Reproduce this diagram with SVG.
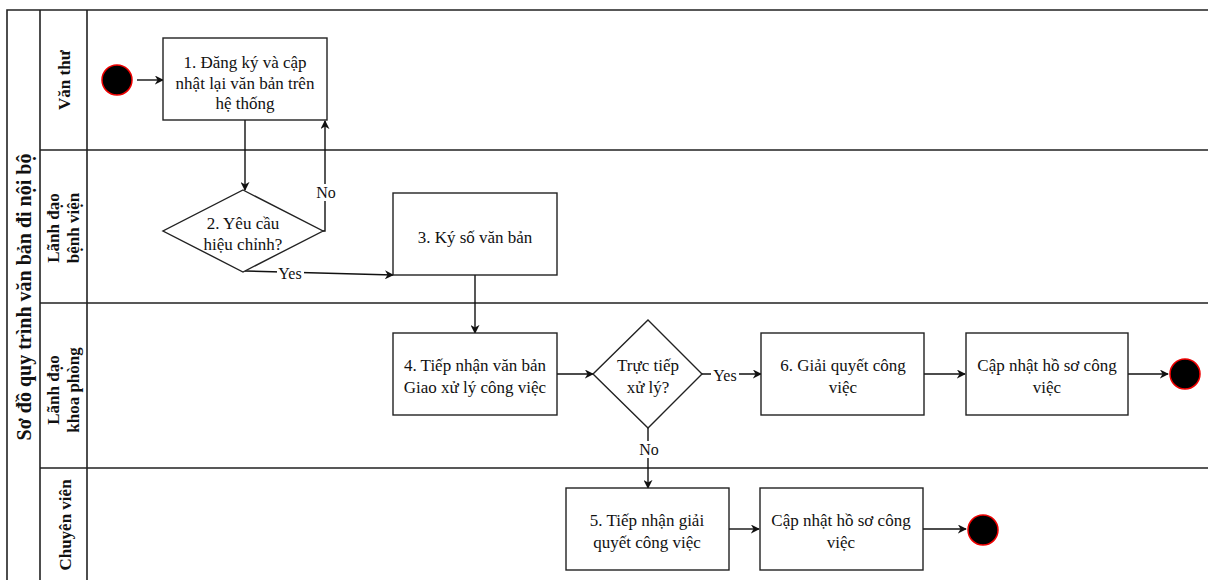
<svg xmlns="http://www.w3.org/2000/svg" width="1208" height="581" viewBox="0 0 1208 581">
<style>
.frame{stroke:#222;stroke-width:1.6;fill:none}
.box{fill:#fff;stroke:#222;stroke-width:1.4}
.t{font-family:"Liberation Serif","Times New Roman",serif;font-size:17px;fill:#111;text-anchor:middle}
.lane{font-family:"Liberation Serif","Times New Roman",serif;font-size:17px;font-weight:bold;fill:#111;text-anchor:middle}
.title{font-family:"Liberation Serif","Times New Roman",serif;font-size:20px;font-weight:bold;fill:#111;text-anchor:middle}
.c{stroke:#111;stroke-width:1.4;fill:none;marker-end:url(#ah)}
.lbl{font-family:"Liberation Serif","Times New Roman",serif;font-size:16px;fill:#111;text-anchor:middle}
.ev{fill:#000;stroke:#e00;stroke-width:1.5}
</style>
<defs>
<marker id="ah" viewBox="0 0 10 10" refX="9" refY="5" markerWidth="9" markerHeight="9" markerUnits="userSpaceOnUse" orient="auto">
<path d="M0,0 L10,5 L0,10 L3,5 Z" fill="#111"/>
</marker>
</defs>
<rect width="1208" height="581" fill="#fff"/>
<g id="pool">
<path class="frame" d="M7,580 V10 H1208 M40,10 V580 M87,10 V580 M40,150 H1208 M40,303 H1208 M40,468 H1208"/>
<text class="title" transform="translate(31,297) rotate(-90)">Sơ đồ quy trình văn bản đi nội bộ</text>
<text class="lane" transform="translate(70,80) rotate(-90)">Văn thư</text>
<text class="lane" transform="translate(59,228) rotate(-90)"><tspan x="0" y="0">Lãnh đạo</tspan><tspan x="0" y="20">bệnh viện</tspan></text>
<text class="lane" transform="translate(59,390) rotate(-90)"><tspan x="0" y="0">Lãnh đạo</tspan><tspan x="0" y="20">khoa phòng</tspan></text>
<text class="lane" transform="translate(71,525) rotate(-90)">Chuyên viên</text>
</g>
<g id="connectors">
<line class="c" x1="137" y1="80" x2="163" y2="80"/>
<line class="c" x1="245" y1="120" x2="245" y2="190"/>
<polyline class="c" points="323,231 325,231 325,121"/>
<polyline class="c" points="245,271 393,275"/>
<line class="c" x1="475" y1="275" x2="475" y2="333"/>
<line class="c" x1="557" y1="374" x2="593" y2="374"/>
<line class="c" x1="702" y1="374" x2="761" y2="374"/>
<line class="c" x1="648" y1="428" x2="648" y2="488"/>
<line class="c" x1="924" y1="374" x2="965" y2="374"/>
<line class="c" x1="1128" y1="374" x2="1168" y2="374"/>
<line class="c" x1="729" y1="529" x2="759" y2="529"/>
<line class="c" x1="923" y1="529" x2="966" y2="529"/>
<rect x="313" y="184" width="26" height="17" fill="#fff"/>
<text class="lbl" x="326" y="198">No</text>
<rect x="277" y="266" width="27" height="14" fill="#fff"/>
<text class="lbl" x="290" y="279">Yes</text>
<rect x="711" y="367" width="28" height="14" fill="#fff"/>
<text class="lbl" x="725" y="381">Yes</text>
<rect x="636" y="441" width="25" height="17" fill="#fff"/>
<text class="lbl" x="649" y="455">No</text>
</g>
<g id="start"><circle class="ev" cx="117" cy="80" r="15"/></g>
<g id="n1"><rect class="box" x="163" y="38" width="164" height="82"/>
<text class="t" x="245" y="68">1. Đăng ký và cập</text><text class="t" x="245" y="89">nhật lại văn bản trên</text><text class="t" x="245" y="109">hệ thống</text></g>
<g id="n2"><polygon class="box" points="243,190 323,231 243,272 163,231"/>
<text class="t" x="243" y="229">2. Yêu cầu</text><text class="t" x="243" y="250">hiệu chỉnh?</text></g>
<g id="n3"><rect class="box" x="393" y="193" width="164" height="82"/>
<text class="t" x="475" y="243">3. Ký số văn bản</text></g>
<g id="n4"><rect class="box" x="393" y="333" width="164" height="82"/>
<text class="t" x="475" y="371">4. Tiếp nhận văn bản</text><text class="t" x="475" y="393">Giao xử lý công việc</text></g>
<g id="n5d"><polygon class="box" points="648,320 702,374 648,428 593,374"/>
<text class="t" x="648" y="371">Trực tiếp</text><text class="t" x="648" y="393">xử lý?</text></g>
<g id="n6"><rect class="box" x="761" y="333" width="163" height="82"/>
<text class="t" x="843" y="371">6. Giải quyết công</text><text class="t" x="843" y="393">việc</text></g>
<g id="n7"><rect class="box" x="966" y="333" width="162" height="82"/>
<text class="t" x="1047" y="371">Cập nhật hồ sơ công</text><text class="t" x="1047" y="393">việc</text></g>
<g id="end1"><circle class="ev" cx="1185" cy="374" r="15"/></g>
<g id="n5"><rect class="box" x="566" y="488" width="163" height="82"/>
<text class="t" x="647" y="526">5. Tiếp nhận giải</text><text class="t" x="647" y="548">quyết công việc</text></g>
<g id="n8"><rect class="box" x="760" y="488" width="163" height="82"/>
<text class="t" x="841" y="526">Cập nhật hồ sơ công</text><text class="t" x="841" y="548">việc</text></g>
<g id="end2"><circle class="ev" cx="983" cy="530" r="15"/></g>
</svg>
